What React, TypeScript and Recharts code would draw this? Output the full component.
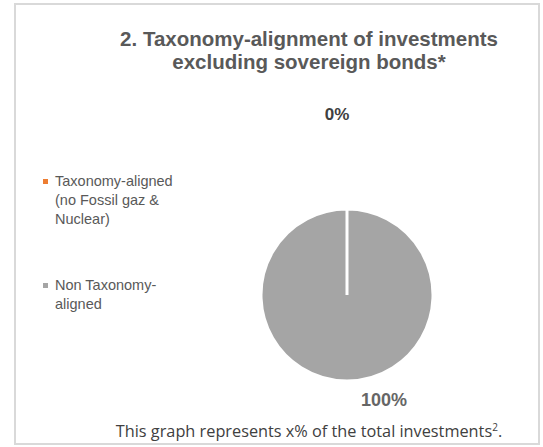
import React from "react";
import { PieChart, Pie, Cell, Legend } from "recharts";

const categories = ["Taxonomy-aligned (no Fossil gaz & Nuclear)", "Non Taxonomy-aligned"];
const shares = [0, 100];
const percentLabels = ["0%", "100%"];
const sliceColors = ["#ed7d31", "#a5a5a5"];

const data = categories.map((name, i) => ({ name, value: shares[i], label: percentLabels[i] }));

const textColor = "#595959";
const arial = "Arial, 'Liberation Sans', sans-serif";

// Excel placed the two data labels by hand: distance from centre along the slice's mid angle, plus a sideways nudge
const labelRadius = [181, 105];
const labelNudge = [-10, 37];

const renderLabel = (props: any) => {
    const { cx, cy, midAngle, index } = props;
    const rad = (-midAngle * Math.PI) / 180;
    const x = cx + labelRadius[index] * Math.cos(rad) + labelNudge[index];
    const y = cy + labelRadius[index] * Math.sin(rad);
    return (
        <text
            x={x}
            y={y}
            textAnchor="middle"
            dominantBaseline="central"
            fill={index === 0 ? "#404040" : "#666666"}
            fontFamily={arial}
            fontWeight="bold"
            fontSize={index === 0 ? 17 : 18}
        >
            {data[index].label}
        </text>
    );
};

const LegendContent = (props: any) => {
    const items = [...(props.payload || [])].sort(
        (a: any, b: any) => categories.indexOf(a.value) - categories.indexOf(b.value)
    );
    return (
        <div style={{ fontFamily: arial, fontSize: 14.5, lineHeight: "19px", color: textColor }}>
            {items.map((entry: any, i: number) => (
                <div key={`legend-${i}`} style={{ display: "flex", alignItems: "flex-start", marginBottom: i === 0 ? 47 : 0 }}>
                    <span style={{ width: 5, height: 5, background: entry.color, marginTop: 7, marginRight: 7, flex: "none" }} />
                    <span style={{ width: 124 }}>{entry.value}</span>
                </div>
            ))}
        </div>
    );
};

const App = () => {
    return (
        <div style={{ position: "absolute", left: 0, top: 0, width: 543, height: 447, background: "#fff" }}>
            <div
                style={{
                    position: "absolute",
                    left: 14,
                    top: 3,
                    width: 522,
                    height: 438,
                    border: "2px solid #d9d9d9",
                }}
            />
            <div
                style={{
                    position: "absolute",
                    left: 59,
                    top: 27,
                    width: 500,
                    textAlign: "center",
                    fontFamily: arial,
                    fontWeight: "bold",
                    fontSize: 20.5,
                    lineHeight: "23px",
                    color: textColor,
                }}
            >
                2. Taxonomy-alignment of investments
                <br />
                excluding sovereign bonds*
            </div>
            <PieChart
                width={543}
                height={447}
                margin={{ top: 0, right: 0, bottom: 0, left: 0 }}
                style={{ position: "absolute", left: 0, top: 0 }}
            >
                <Pie
                    data={data}
                    dataKey="value"
                    nameKey="name"
                    cx={347}
                    cy={295}
                    outerRadius={86}
                    startAngle={90}
                    endAngle={-270}
                    stroke="#ffffff"
                    strokeWidth={3}
                    label={renderLabel}
                    labelLine={false}
                    isAnimationActive={false}
                >
                    {data.map((entry, index) => (
                        <Cell key={`cell-${index}`} fill={sliceColors[index]} />
                    ))}
                </Pie>
                <Legend
                    layout="vertical"
                    align="center"
                    verticalAlign="middle"
                    itemSorter={null as any}
                    content={<LegendContent />}
                    wrapperStyle={{ left: 43, top: 172, width: 150 }}
                />
            </PieChart>
            <div
                style={{
                    position: "absolute",
                    left: 59,
                    top: 420,
                    width: 500,
                    textAlign: "center",
                    fontFamily: "'Open Sans', sans-serif",
                    fontSize: 16.3,
                    color: "#404040",
                }}
            >
                This graph represents x% of the total investments<sup style={{ fontSize: 10 }}>2</sup>.
            </div>
        </div>
    );
};

export default App;
